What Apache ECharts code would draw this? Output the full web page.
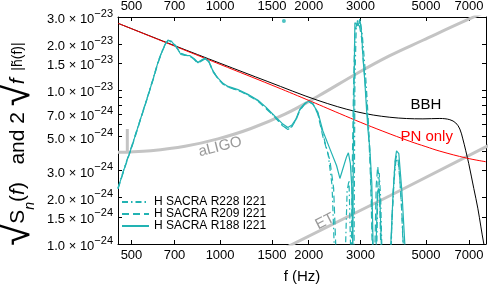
<!DOCTYPE html>
<html><head><meta charset="utf-8">
<script src="https://cdn.jsdelivr.net/npm/echarts@6/dist/echarts.min.js"></script>
<style>html,body{margin:0;padding:0;background:#fff}#c{width:491px;height:289px}</style>
</head><body><div id="c"></div>
<script>
// ---- tick values ----
const xTicks = [500, 700, 1000, 1500, 2000, 3000, 5000, 7000];
const yTicks = [1e-24, 1.5e-24, 2e-24, 3e-24, 5e-24, 7e-24, 1e-23, 1.5e-23, 2e-23, 3e-23];
const yMinorTicks = [4e-24, 6e-24, 8e-24, 9e-24];

// ---- reference curves [f (Hz), amplitude] ----
const bbh = [[450,2.73e-23],[702,1.95e-23],[1000,1.50e-23],[1453,1.14e-23],[2149,8.6e-24],[2914,7.25e-24],[3771,6.68e-24],[4884,6.52e-24],[5576,6.56e-24],[6030,6.44e-24],[6317,6.13e-24],[6520,5.60e-24],[6674,4.83e-24],[6830,4.04e-24],[6992,3.33e-24],[7271,2.30e-24],[7503,1.71e-24],[7866,1.0e-24],[8244,6.5e-25]];
const pnOnly = [[450,2.73e-23],[1000,1.475e-23],[1500,1.08e-23],[1971,8.7e-24],[2551,7.05e-24],[3006,6.18e-24],[3571,5.42e-24],[4410,4.66e-24],[5000,4.30e-24],[5576,4.02e-24],[6886,3.62e-24],[7988,3.43e-24]];
const aligo = [[450,3.95e-24],[481,3.96e-24],[582,4.04e-24],[760,4.32e-24],[983,4.83e-24],[1273,5.645e-24],[1660,7.00e-24],[2149,9.15e-24],[2914,1.288e-23],[3771,1.682e-23],[4884,2.118e-23],[6779,2.829e-23],[8244,3.33e-23]];
const aligoLine = [[484,3.96e-24],[484,5.6e-24]];
const et = [[1660,0.941e-24],[3771,2.06e-24],[8244,4.42e-24]];

const r188 = [[450,2.30e-24],[475,3.19e-24],[502,4.35e-24],[534,6.31e-24],[564,8.75e-24],[592,1.18e-23],[615,1.52e-23],[635,1.79e-23],[650,1.98e-23],[665,2.12e-23],[686,2.07e-23],[708,1.92e-23],[736,1.71e-23],[760,1.69e-23],[790,1.68e-23],[815,1.61e-23],[841,1.52e-23],[868,1.58e-23],[888,1.62e-23],[917,1.54e-23],[946,1.33e-23],[984,1.20e-23],[1023,1.11e-23],[1064,1.06e-23],[1150,1.01e-23],[1243,9.42e-24],[1345,8.62e-24],[1431,7.77e-24],[1499,7.11e-24],[1571,6.50e-24],[1634,6.03e-24],[1699,5.73e-24],[1753,5.95e-24],[1809,6.50e-24],[1866,7.54e-24],[1941,8.24e-24],[2002,8.49e-24],[2066,8.12e-24],[2148,7.21e-24],[2234,5.44e-24],[2360,4.16e-24],[2487,3.23e-24],[2552,2.67e-24],[2612,3.09e-24],[2689,3.70e-24],[2727,3.92e-24],[2770,3.33e-24],[2802,2.30e-24],[2824,8.0e-25],[2835,4.16e-24],[2869,2.75e-23],[2907,2.81e-23],[2944,2.63e-23],[2983,2.91e-23],[3023,2.37e-23],[3061,1.58e-23],[3102,1.13e-23],[3143,7.54e-24],[3183,5.36e-24],[3225,4.16e-24],[3276,2.48e-24],[3315,8.0e-25],[3380,8.0e-25],[3420,2.10e-24],[3450,2.30e-24],[3488,1.98e-24],[3540,8.0e-25],[3771,8.0e-25],[3801,1.0e-24],[3861,1.98e-24],[3930,3.50e-24],[3974,4.04e-24],[4010,4.05e-24],[4046,3.87e-24],[4142,2.23e-24],[4240,1.0e-24],[4274,8.0e-25]];
const r209 = [[450,2.28e-24],[475,3.15e-24],[502,4.3e-24],[534,6.25e-24],[564,8.7e-24],[592,1.17e-23],[615,1.5e-23],[635,1.78e-23],[650,1.97e-23],[665,2.11e-23],[686,2.08e-23],[708,1.94e-23],[736,1.74e-23],[760,1.70e-23],[790,1.67e-23],[815,1.59e-23],[841,1.50e-23],[868,1.56e-23],[888,1.60e-23],[917,1.52e-23],[946,1.32e-23],[984,1.19e-23],[1023,1.10e-23],[1064,1.05e-23],[1150,1.00e-23],[1243,9.3e-24],[1345,8.5e-24],[1431,7.6e-24],[1499,7.0e-24],[1571,6.35e-24],[1634,5.85e-24],[1699,5.6e-24],[1753,5.8e-24],[1809,6.4e-24],[1866,7.4e-24],[1941,8.15e-24],[2002,8.45e-24],[2066,8.2e-24],[2148,7.0e-24],[2234,5.0e-24],[2360,3.5e-24],[2430,2.3e-24],[2480,8e-25],[2790,8e-25],[2810,3.0e-24],[2835,9.0e-24],[2869,2.45e-23],[2907,2.65e-23],[2944,2.78e-23],[2983,2.55e-23],[3023,2.2e-23],[3061,1.6e-23],[3102,1.2e-23],[3143,8.5e-24],[3183,5.9e-24],[3225,3.6e-24],[3260,1.9e-24],[3290,8e-25],[3350,8e-25],[3390,2.4e-24],[3430,3.2e-24],[3470,2.6e-24],[3520,8e-25],[3790,8e-25],[3820,1.2e-24],[3870,2.2e-24],[3930,3.4e-24],[3974,3.75e-24],[4020,3.6e-24],[4080,2.6e-24],[4150,1.5e-24],[4210,8e-25]];
const r228 = [[450,2.32e-24],[475,3.22e-24],[502,4.4e-24],[534,6.35e-24],[564,8.8e-24],[592,1.19e-23],[615,1.53e-23],[635,1.80e-23],[650,1.99e-23],[665,2.10e-23],[686,2.06e-23],[708,1.93e-23],[736,1.73e-23],[760,1.70e-23],[790,1.66e-23],[815,1.60e-23],[841,1.51e-23],[868,1.57e-23],[888,1.61e-23],[917,1.53e-23],[946,1.34e-23],[984,1.19e-23],[1023,1.10e-23],[1064,1.05e-23],[1150,1.00e-23],[1243,9.35e-24],[1345,8.55e-24],[1431,7.7e-24],[1499,7.05e-24],[1571,6.4e-24],[1634,5.9e-24],[1699,5.55e-24],[1753,5.85e-24],[1809,6.45e-24],[1866,7.45e-24],[1941,8.2e-24],[2002,8.4e-24],[2066,8.15e-24],[2148,7.1e-24],[2234,5.2e-24],[2330,3.8e-24],[2400,2.4e-24],[2450,8e-25],[2660,8e-25],[2700,2.2e-24],[2740,2.6e-24],[2780,8e-25],[2850,8e-25],[2870,1.2e-23],[2900,2.55e-23],[2930,2.85e-23],[2960,2.7e-23],[2995,2.8e-23],[3040,2.3e-23],[3080,1.7e-23],[3120,1.25e-23],[3160,8.5e-24],[3200,5.5e-24],[3240,3.3e-24],[3280,1.6e-24],[3305,8e-25],[3400,8e-25],[3440,2.8e-24],[3470,2.9e-24],[3510,2.0e-24],[3550,8e-25],[3800,8e-25],[3840,1.5e-24],[3900,2.6e-24],[3960,3.6e-24],[4000,3.65e-24],[4050,3.2e-24],[4120,2.0e-24],[4200,8e-25]];
const strayPoint = [[1647, 2.83e-23]];

// y values are handed to the log axis in units of 1e-24 (avoids float rounding of tiny numbers)
const UNIT = 1e-24;
const toUnit = arr => arr.map(p => [p[0], p[1] / UNIT]);
const tickUnit = arr => arr.map(v => v / UNIT);

const CY = '#22b3b3';
const FONT = 'Liberation Sans, Arial, sans-serif';

function fmtY(u) {
  const e = Math.floor(Math.log10(u) + 1e-9) - 24;
  const m = u / Math.pow(10, e + 24);
  return '{b|' + m.toFixed(1) + ' \u00d7 10}{s|\u2212' + (-e) + '}';
}
function fmtX(v) { return String(Math.round(v)); }

const chart = echarts.init(document.getElementById('c'), null, {renderer: 'canvas'});
const xBase = {
  type: 'log', logBase: 10, min: 450, max: 8000,
  axisLine: {show: true, lineStyle: {color: '#000', width: 1}},
  axisTick: {show: true, inside: true, length: 4, customValues: xTicks, lineStyle: {color: '#000', width: 1}},
  splitLine: {show: false}, minorTick: {show: false}
};
const yBase = {
  type: 'log', logBase: 10, min: 1, max: 30.001,
  axisLine: {show: true, lineStyle: {color: '#000', width: 1}},
  axisTick: {show: true, inside: true, length: 4, customValues: tickUnit(yTicks.concat(yMinorTicks)), lineStyle: {color: '#000', width: 1}},
  splitLine: {show: false}, minorTick: {show: false}
};
const option = {
  animation: false,
  backgroundColor: '#fff',
  textStyle: {fontFamily: FONT},
  grid: {left: 118, right: 5, top: 17, bottom: 43, containLabel: false},
  xAxis: [
    Object.assign({}, xBase, {position: 'bottom',
      axisLabel: {customValues: xTicks, formatter: fmtX, fontSize: 13, color: '#000', margin: 5, fontFamily: FONT},
      name: 'f (Hz)', nameLocation: 'middle', nameGap: 25,
      nameTextStyle: {fontSize: 15, color: '#000', fontFamily: FONT}}),
    Object.assign({}, xBase, {position: 'top',
      axisLabel: {customValues: xTicks, formatter: fmtX, fontSize: 13, color: '#000', margin: 4, fontFamily: FONT}})
  ],
  yAxis: [
    Object.assign({}, yBase, {position: 'left',
      axisLabel: {customValues: tickUnit(yTicks), formatter: fmtY, margin: 5,
        rich: {
          b: {fontSize: 13, color: '#000', fontFamily: FONT, lineHeight: 18, verticalAlign: 'bottom'},
          s: {fontSize: 11, color: '#000', fontFamily: FONT, lineHeight: 11, verticalAlign: 'top'}
        }}}),
    Object.assign({}, yBase, {position: 'right', axisLabel: {show: false}})
  ],
  legend: {
    data: ['H SACRA R228 I221', 'H SACRA R209 I221', 'H SACRA R188 I221'],
    orient: 'vertical', left: 121, top: 196, padding: 0,
    itemWidth: 27, itemHeight: 10, itemGap: 0,
    itemStyle: {opacity: 0},
    textStyle: {fontSize: 12, lineHeight: 12, color: '#000', fontFamily: FONT},
    selectedMode: false
  },
  graphic: [{
    type: 'text', x: 18, y: 144, rotation: Math.PI / 2, silent: true,
    style: {
      text: '{q|\u221a}{m|S}{n|n}{m|(}{i|f}{m|)   and 2 }{q|\u221a}{i|f}{k|  |h\u0303(f)|}',
      align: 'center', verticalAlign: 'middle', fill: '#000',
      rich: {
        q: {fontSize: 40, fontFamily: FONT, lineHeight: 38, fill: '#000'},
        m: {fontSize: 21, fontFamily: FONT, lineHeight: 38, fill: '#000'},
        n: {fontSize: 14, fontFamily: FONT, fontStyle: 'italic', lineHeight: 28, verticalAlign: 'bottom', fill: '#000'},
        i: {fontSize: 21, fontFamily: FONT, fontStyle: 'italic', lineHeight: 38, fill: '#000'},
        k: {fontSize: 14, fontFamily: FONT, lineHeight: 38, fill: '#000'}
      }
    }
  }],
  series: [
    {name: 'aLIGO', type: 'line', data: toUnit(aligo), symbol: 'none', smooth: 0.4, z: 1,
      lineStyle: {color: '#c4c4c4', width: 3}, clip: true,
      markPoint: {symbol: 'circle', symbolSize: 0, silent: true, animation: false,
        data: [{coord: [1000, 4.29]}],
        label: {show: true, position: 'inside', formatter: 'aLIGO', rotate: 14, fontSize: 15, color: '#999', fontFamily: FONT}}},
    {name: 'aLIGO line', type: 'line', data: toUnit(aligoLine), symbol: 'none', z: 1,
      lineStyle: {color: '#c4c4c4', width: 3}, clip: true},
    {name: 'ET', type: 'line', data: toUnit(et), symbol: 'none', z: 1,
      lineStyle: {color: '#c4c4c4', width: 3}, clip: true,
      markPoint: {symbol: 'circle', symbolSize: 0, silent: true, animation: false,
        data: [{coord: [2270, 1.4]}],
        label: {show: true, position: 'inside', formatter: 'ET', rotate: 27, fontSize: 15, color: '#999', fontFamily: FONT}}},
    {name: 'BBH', type: 'line', data: toUnit(bbh), symbol: 'none', smooth: 0.35, z: 2,
      lineStyle: {color: '#000', width: 1}, clip: true,
      markPoint: {symbol: 'circle', symbolSize: 0, silent: true, animation: false,
        data: [{coord: [5000, 8.0]}],
        label: {show: true, position: 'inside', formatter: 'BBH', fontSize: 15, color: '#000', fontFamily: FONT}}},
    {name: 'PN only', type: 'line', data: toUnit(pnOnly), symbol: 'none', smooth: 0.4, z: 2,
      lineStyle: {color: '#ff0000', width: 1}, clip: true,
      markPoint: {symbol: 'circle', symbolSize: 0, silent: true, animation: false,
        data: [{coord: [5030, 4.98]}],
        label: {show: true, position: 'inside', formatter: 'PN only', fontSize: 15, color: '#ff0000', fontFamily: FONT}}},
    {name: 'H SACRA R228 I221', type: 'line', data: toUnit(r228), symbol: 'none', z: 3, clip: true,
      lineStyle: {color: CY, width: 1.2, type: [6, 3, 1.5, 3]}, itemStyle: {color: CY}},
    {name: 'H SACRA R209 I221', type: 'line', data: toUnit(r209), symbol: 'none', z: 3, clip: true,
      lineStyle: {color: CY, width: 1.2, type: [7, 4]}, itemStyle: {color: CY}},
    {name: 'H SACRA R188 I221', type: 'line', data: toUnit(r188), symbol: 'none', z: 3, clip: true,
      lineStyle: {color: CY, width: 1.2, type: 'solid'}, itemStyle: {color: CY}},
    {name: 'point', type: 'scatter', data: toUnit(strayPoint), symbolSize: 4, z: 3,
      itemStyle: {color: CY}}
  ]
};
chart.setOption(option);
</script>
</body></html>
